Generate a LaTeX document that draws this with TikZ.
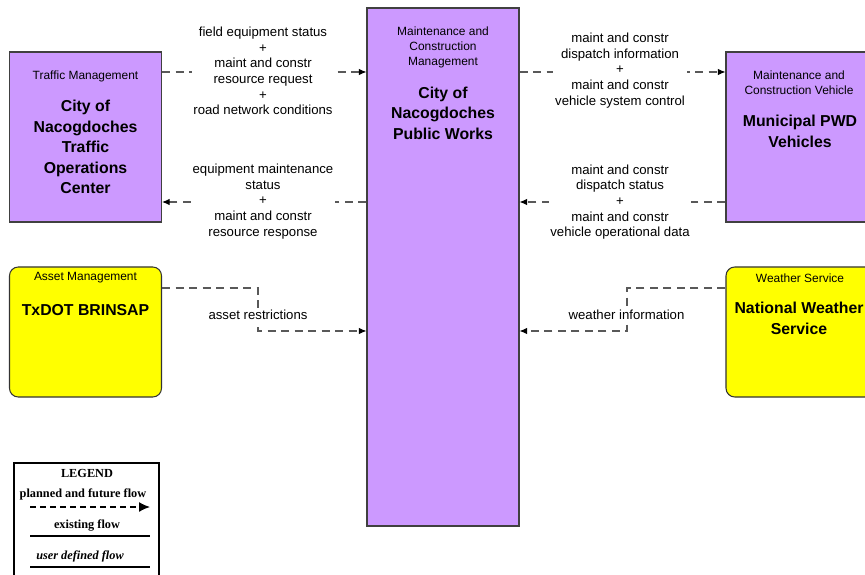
\documentclass[tikz,border=0pt]{standalone}
\usepackage{fontspec}
\setmainfont{Liberation Sans}
\newfontfamily\legendfont{Liberation Serif}
\usetikzlibrary{arrows.meta}
\definecolor{ssviolet}{HTML}{CC99FF}
\definecolor{ssyellow}{HTML}{FFFF00}

\begin{document}
\begin{tikzpicture}[
  font=\fontsize{7.5}{8.9}\selectfont,
  sbox/.style={draw=black!75, line width=0.6pt, fill=ssviolet, minimum width=3.04cm, inner sep=0pt},
  tbox/.style={draw=black!80, line width=0.6pt, fill=ssyellow, rounded corners=5pt,
    minimum width=3.04cm, minimum height=2.6cm, inner sep=0pt},
  hdr/.style={font=\fontsize{6.8}{8.5}\selectfont},
  ttl/.style={font=\bfseries\fontsize{9}{11.6}\selectfont},
  flow/.style={draw=black!65, line width=0.6pt, dash pattern=on 1.6mm off 1.1mm,
    -{Latex[length=1.5mm, width=1.3mm, black]}},
  flabel/.style={fill=white, inner sep=1pt},
  lgd/.style={font=\legendfont\bfseries\fontsize{7}{8}\selectfont},
  every node/.style={align=center}
]
\useasboundingbox (0,0) rectangle (17.3,-11.5);
\clip (0,0) rectangle (17.3,-11.5);
% boxes
\node[sbox, minimum height=3.4cm] (box-tmc) at (1.71,-2.74) {};
\node[sbox, minimum height=10.36cm] (box-pw) at (8.86,-5.34) {};
\node[sbox, minimum height=3.4cm] (box-pwd) at (16.04,-2.74) {};
\node[tbox] (box-brinsap) at (1.71,-6.64) {};
\node[tbox] (box-nws) at (16.04,-6.64) {};
\node[hdr] (hdr-tmc) at (1.71,-1.52) {Traffic Management};
\node[ttl] (ttl-tmc) at (1.71,-2.94) {City of\\Nacogdoches\\Traffic\\Operations\\Center};
\node[hdr] (hdr-pw) at (8.86,-0.94) {Maintenance and\\Construction\\Management};
\node[ttl] (ttl-pw) at (8.86,-2.26) {City of\\Nacogdoches\\Public Works};
\node[hdr] (hdr-pwd) at (15.98,-1.66) {Maintenance and\\Construction Vehicle};
\node[ttl] (ttl-pwd) at (16.0,-2.63) {Municipal PWD\\Vehicles};
\node[hdr] (hdr-brinsap) at (1.71,-5.56) {Asset Management};
\node[ttl] (ttl-brinsap) at (1.71,-6.2) {TxDOT BRINSAP};
\node[hdr] (hdr-nws) at (16.0,-5.56) {Weather Service};
\node[ttl] (ttl-nws) at (15.98,-6.37) {National Weather\\Service};
% flows
\draw[flow] (box-tmc.east |- 0,-1.44) -- (box-pw.west |- 0,-1.44);
\draw[flow] (box-pw.west |- 0,-4.04) -- (box-tmc.east |- 0,-4.04);
\draw[flow] (box-pw.east |- 0,-1.44) -- (box-pwd.west |- 0,-1.44);
\draw[flow] (box-pwd.west |- 0,-4.04) -- (box-pw.east |- 0,-4.04);
\draw[flow] (box-brinsap.east |- 0,-5.76) -| (5.16,-6.62) -- (box-pw.west |- 0,-6.62);
\draw[flow] (box-nws.west |- 0,-5.76) -| (12.54,-6.62) -- (box-pw.east |- 0,-6.62);
\node[flabel] (lbl-tmc-pw) at (5.26,-1.42) {field equipment status\\+\\maint and constr\\resource request\\+\\road network conditions};
\node[flabel] (lbl-pw-tmc) at (5.26,-4.03) {equipment maintenance\\status\\+\\maint and constr\\resource response};
\node[flabel] (lbl-pw-pwd) at (12.4,-1.41) {maint and constr\\dispatch information\\+\\maint and constr\\vehicle system control};
\node[flabel] (lbl-pwd-pw) at (12.4,-4.04) {maint and constr\\dispatch status\\+\\maint and constr\\vehicle operational data};
\node[flabel] (lbl-brinsap-pw) at (5.16,-6.3) {asset restrictions};
\node[flabel] (lbl-nws-pw) at (12.53,-6.3) {weather information};
% legend
\node[draw=black, line width=0.6pt, minimum width=2.9cm, minimum height=2.6cm] (legend) at (1.73,-10.56) {};
\node[lgd] (lgd-title) at (1.74,-9.46) {LEGEND};
\node[lgd] (lgd-planned) at (1.66,-9.88) {planned and future flow};
\node[lgd] (lgd-existing) at (1.74,-10.52) {existing flow};
\node[lgd] (lgd-user) at (1.6,-11.12) {\itshape user defined flow};
\coordinate (lgd-planned-a) at (0.6,-10.14);
\coordinate (lgd-planned-b) at (3.0,-10.14);
\coordinate (lgd-existing-a) at (0.6,-10.72);
\coordinate (lgd-existing-b) at (3.0,-10.72);
\coordinate (lgd-user-a) at (0.6,-11.34);
\coordinate (lgd-user-b) at (3.0,-11.34);
\draw[line width=0.8pt, dash pattern=on 1.1mm off 0.9mm, -{Latex[length=2.2mm, width=2mm]}] (lgd-planned-a) -- (lgd-planned-b);
\draw[line width=0.8pt] (lgd-existing-a) -- (lgd-existing-b);
\draw[line width=0.8pt] (lgd-user-a) -- (lgd-user-b);
\end{tikzpicture}
\end{document}
